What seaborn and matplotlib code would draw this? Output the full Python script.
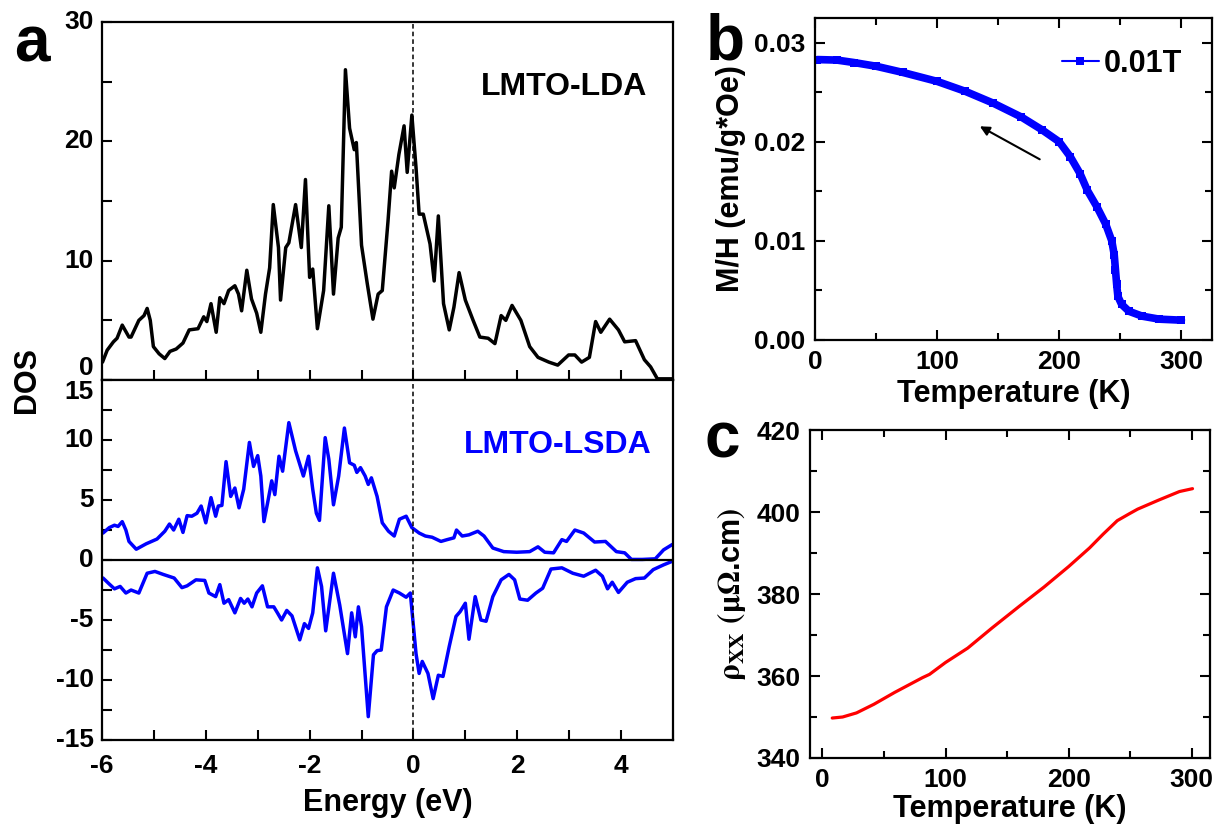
import numpy as np
import pandas as pd
import matplotlib
matplotlib.use("Agg")
import matplotlib.pyplot as plt
import seaborn as sns
from matplotlib.ticker import MultipleLocator, FormatStrFormatter

# ---- panel a: LMTO-LDA total DOS ----
lda_e = [-5.99, -5.9, -5.78, -5.71, -5.61, -5.48, -5.44, -5.29, -5.19, -5.13, -5.07, -5.01, -4.9, -4.79,
         -4.69, -4.57, -4.44, -4.32, -4.15, -4.04, -3.98, -3.9, -3.8, -3.73, -3.65, -3.56, -3.44, -3.37,
         -3.31, -3.21, -3.12, -3.02, -2.94, -2.85, -2.77, -2.70, -2.60, -2.56, -2.46, -2.40, -2.27, -2.16,
         -2.08, -2.0, -1.94, -1.85, -1.73, -1.63, -1.54, -1.45, -1.39, -1.31, -1.23, -1.14, -1.10, -1.0,
         -0.89, -0.78, -0.68, -0.60, -0.49, -0.42, -0.37, -0.28, -0.18, -0.12, -0.03, 0.05, 0.11, 0.19,
         0.32, 0.40, 0.48, 0.58, 0.69, 0.78, 0.88, 1.0, 1.15, 1.28, 1.44, 1.57, 1.69, 1.78, 1.90, 2.07,
         2.24, 2.40, 2.61, 2.78, 2.99, 3.11, 3.24, 3.39, 3.51, 3.61, 3.78, 3.95, 4.07, 4.28, 4.45, 4.57,
         4.70, 4.99]
lda_dos = [1.5, 2.5, 3.2, 3.5, 4.6, 3.6, 3.6, 5.0, 5.4, 6.0, 5.0, 2.8, 2.2, 1.8,
           2.4, 2.6, 3.1, 4.2, 4.3, 5.3, 4.9, 6.4, 4.0, 6.9, 6.4, 7.5, 7.9, 7.2,
           5.8, 9.2, 6.8, 5.6, 4.0, 7.2, 9.4, 14.7, 11.1, 6.7, 11.1, 11.5, 14.7, 11.1,
           16.8, 8.6, 9.3, 4.3, 7.5, 14.6, 7.2, 11.9, 12.8, 26.0, 21.1, 19.3, 19.9, 11.3,
           8.1, 5.1, 7.2, 7.5, 13.3, 17.5, 16.1, 18.9, 21.3, 17.4, 22.2, 17.8, 13.9, 13.9,
           11.4, 8.3, 13.75, 6.4, 4.2, 6.1, 9.0, 6.7, 5.0, 3.6, 3.5, 3.05, 5.4, 5.0, 6.25, 5.0,
           2.8, 1.9, 1.5, 1.25, 2.1, 2.1, 1.5, 1.9, 4.9, 4.0, 5.1, 4.2, 3.2, 3.3, 1.7, 1.1,
           0.1, 0.1]

# ---- panel a: LMTO-LSDA spin up / spin down ----
up_e = [-5.98, -5.86, -5.76, -5.69, -5.61, -5.54, -5.48, -5.34, -5.15, -4.94, -4.79, -4.7, -4.62, -4.52,
        -4.44, -4.36, -4.27, -4.17, -4.09, -4.0, -3.9, -3.81, -3.76, -3.69, -3.61, -3.52, -3.44, -3.36,
        -3.27, -3.16, -3.08, -3.0, -2.94, -2.88, -2.81, -2.73, -2.67, -2.59, -2.52, -2.40, -2.27, -2.12,
        -2.02, -1.94, -1.87, -1.81, -1.70, -1.63, -1.54, -1.44, -1.33, -1.23, -1.14, -1.09, -1.02, -0.93,
        -0.87, -0.81, -0.70, -0.60, -0.48, -0.37, -0.27, -0.14, -0.03, 0.11, 0.23, 0.36, 0.53, 0.65, 0.78,
        0.83, 0.94, 1.07, 1.24, 1.36, 1.53, 1.74, 1.99, 2.24, 2.40, 2.53, 2.70, 2.86, 2.95, 3.11, 3.28,
        3.49, 3.70, 3.91, 4.07, 4.2, 4.41, 4.66, 4.82, 4.99]
up_dos = [2.25, 2.7, 2.9, 2.8, 3.2, 2.5, 1.55, 0.9, 1.35, 1.75, 2.4, 3.0, 2.5, 3.4,
          2.3, 3.7, 3.65, 3.9, 4.5, 3.1, 5.2, 3.65, 4.5, 4.55, 8.2, 5.3, 6.0, 4.35,
          5.9, 9.8, 7.8, 8.7, 7.0, 3.2, 4.75, 6.6, 5.45, 8.65, 7.4, 11.45, 9.1, 7.0,
          8.65, 5.9, 3.9, 3.3, 10.2, 8.4, 4.6, 7.0, 11.0, 8.1, 7.9, 7.3, 7.7, 7.0,
          6.3, 6.85, 5.3, 3.1, 2.4, 2.0, 3.4, 3.65, 2.7, 2.25, 2.0, 1.9, 1.55, 1.7, 1.85,
          2.5, 2.0, 2.1, 2.4, 2.0, 1.0, 0.7, 0.65, 0.7, 1.1, 0.65, 0.6, 1.7, 1.55, 2.5, 2.25,
          1.5, 1.55, 0.7, 0.6, 0.05, 0.05, 0.1, 0.85, 1.3]

dn_e = [-5.98, -5.86, -5.76, -5.65, -5.54, -5.44, -5.29, -5.13, -4.98, -4.82, -4.61, -4.46, -4.36, -4.19,
        -4.02, -3.94, -3.81, -3.73, -3.65, -3.56, -3.44, -3.33, -3.26, -3.19, -3.11, -3.02, -2.91, -2.81,
        -2.69, -2.62, -2.54, -2.44, -2.34, -2.19, -2.10, -2.02, -1.94, -1.85, -1.77, -1.69, -1.54, -1.42,
        -1.27, -1.19, -1.12, -1.06, -1.0, -0.87, -0.77, -0.70, -0.62, -0.52, -0.39, -0.27, -0.14, -0.06,
        0.05, 0.11, 0.17, 0.28, 0.38, 0.48, 0.57, 0.69, 0.82, 0.90, 1.0, 1.07, 1.19, 1.30, 1.40, 1.53,
        1.69, 1.84, 1.95, 2.05, 2.20, 2.36, 2.49, 2.65, 2.86, 3.07, 3.28, 3.51, 3.64, 3.74, 3.83, 3.95,
        4.12, 4.28, 4.45, 4.62, 4.82, 4.99]
dn_dos = [-1.5, -2.0, -2.4, -2.2, -2.75, -2.5, -2.75, -1.1, -0.95, -1.2, -1.5, -2.3, -2.15, -1.65,
          -1.7, -2.75, -3.05, -2.05, -3.6, -3.3, -4.4, -3.2, -3.6, -3.25, -3.9, -2.75, -2.15, -3.9,
          -3.9, -4.4, -5.0, -4.2, -4.65, -6.65, -5.3, -5.7, -4.4, -0.65, -2.2, -5.9, -1.1, -3.75,
          -7.8, -4.4, -6.4, -3.9, -5.55, -13.05, -7.9, -7.55, -7.5, -3.9, -2.5, -2.75, -3.1, -2.75,
          -7.8, -9.45, -8.45, -9.45, -11.55, -9.6, -9.7, -7.2, -4.7, -4.3, -3.6, -6.6, -3.05, -5.0, -5.1, -3.05,
          -1.65, -1.2, -1.65, -3.25, -3.35, -2.75, -2.35, -0.75, -0.65, -1.1, -1.35, -0.85, -1.35, -2.4, -1.85, -2.7,
          -1.85, -1.55, -1.5, -0.8, -0.4, -0.1]

# ---- panel b: M/H vs T (0.01 T) ----
mh_t = [2, 18, 32, 50, 72, 100, 123, 146, 169, 186, 200, 209, 217, 223, 231, 238, 243, 245, 246, 247,
        248, 251, 257, 268, 282, 300]
mh_val = [0.0283, 0.02825, 0.0280, 0.02763, 0.0270, 0.0261, 0.0251, 0.0239, 0.0225, 0.0212, 0.0200,
          0.0185, 0.0168, 0.0151, 0.0134, 0.0117, 0.0100, 0.0086, 0.0071, 0.0056, 0.0044, 0.0036,
          0.0029, 0.0024, 0.0021, 0.0020]

# ---- panel c: rho_xx vs T ----
rho_t = [8, 16.4, 27.7, 41.8, 58.7, 81.3, 87, 100, 118, 137.7, 160.3, 180, 200, 217, 228, 239.5, 249.4,
         256, 273, 290, 300.6]
rho_val = [349.75, 350, 351, 353.1, 356.0, 359.6, 360.4, 363.3, 366.8, 371.7, 377.1, 381.7, 386.7,
           391.25, 394.6, 397.9, 399.6, 400.7, 402.9, 405.0, 405.7]

sns.set_theme(style="ticks")
plt.rcParams['font.family'] = ['Liberation Sans', 'DejaVu Sans']
plt.rcParams['font.weight'] = 'bold'
plt.rcParams['axes.labelweight'] = 'bold'
plt.rcParams['mathtext.fontset'] = 'stix'
plt.rcParams['axes.unicode_minus'] = False
for k in ['text.color', 'axes.labelcolor', 'xtick.color', 'ytick.color', 'axes.edgecolor']:
    plt.rcParams[k] = 'black'
plt.rcParams['axes.linewidth'] = 1.6
plt.rcParams['xtick.direction'] = 'in'
plt.rcParams['ytick.direction'] = 'in'
for k in ['xtick.major.width', 'ytick.major.width', 'xtick.minor.width', 'ytick.minor.width']:
    plt.rcParams[k] = 1.5
plt.rcParams['lines.solid_joinstyle'] = 'round'

TICK = 19
LAB = 22

fig = plt.figure(figsize=(12.2, 8.24), dpi=100)
ax1 = fig.add_axes([0.0836, 0.5388, 0.468, 0.4345])
ax2 = fig.add_axes([0.0836, 0.1019, 0.468, 0.4369])
axb = fig.add_axes([0.668, 0.5874, 0.3254, 0.3908])
axc = fig.add_axes([0.664, 0.0801, 0.328, 0.398])

lda = pd.DataFrame({'E': lda_e, 'DOS': lda_dos})
up = pd.DataFrame({'E': up_e, 'DOS': up_dos})
dn = pd.DataFrame({'E': dn_e, 'DOS': dn_dos})

sns.lineplot(data=lda, x='E', y='DOS', ax=ax1, color='black', lw=2.5, estimator=None)
sns.lineplot(data=up, x='E', y='DOS', ax=ax2, color='#0000ff', lw=2.5, estimator=None)
sns.lineplot(data=dn, x='E', y='DOS', ax=ax2, color='#0000ff', lw=2.5, estimator=None)

for ax in (ax1, ax2):
    ax.axvline(0, color='black', lw=1.1, ls=(0, (3, 2)))
    ax.set_xlim(-6, 5)
    ax.set_xlabel('')
    ax.set_ylabel('')
    ax.tick_params(labelsize=TICK, length=7, which='major', pad=6)
    ax.tick_params(length=7, which='minor')
    ax.tick_params(top=False, right=False)
ax2.axhline(0, color='black', lw=1.6)

ax1.set_ylim(0, 30)
ax1.yaxis.set_major_locator(MultipleLocator(10))
ax1.yaxis.set_minor_locator(MultipleLocator(5))
ax1.xaxis.set_major_locator(MultipleLocator(1))
ax1.tick_params(axis='x', labelbottom=False)
ax1.text(2.9, 24.55, 'LMTO-LDA', fontsize=23, fontweight='bold', ha='center', va='center')

ax2.set_ylim(-15, 15)
ax2.yaxis.set_major_locator(MultipleLocator(5))
ax2.yaxis.set_minor_locator(MultipleLocator(2.5))
ax2.xaxis.set_major_locator(MultipleLocator(2))
ax2.xaxis.set_minor_locator(MultipleLocator(1))
ax2.tick_params(axis='x', pad=10)
ax2.set_xlabel('Energy (eV)', fontsize=LAB, fontweight='bold', labelpad=7)
ax2.text(2.79, 9.55, 'LMTO-LSDA', fontsize=23, fontweight='bold', ha='center', va='center',
         color='#0000ff')
fig.text(0.022, 1 - 380 / 824, 'DOS', rotation=90, fontsize=LAB, fontweight='bold',
         ha='center', va='center')

# panel b
mh = pd.DataFrame({'T': mh_t, 'MH': mh_val})
sns.lineplot(data=mh, x='T', y='MH', ax=axb, color='#0000ff', lw=5.5, marker='s', markersize=6,
             markeredgewidth=0, estimator=None, label='0.01T')
axb.set_xlim(0, 325)
axb.set_ylim(0, 0.0325)
axb.xaxis.set_major_locator(MultipleLocator(100))
axb.xaxis.set_minor_locator(MultipleLocator(50))
axb.yaxis.set_major_locator(MultipleLocator(0.01))
axb.yaxis.set_minor_locator(MultipleLocator(0.005))
axb.yaxis.set_major_formatter(FormatStrFormatter('%.2f'))
axb.set_xlabel('Temperature (K)', fontsize=LAB, fontweight='bold', labelpad=4)
axb.set_ylabel('M/H (emu/g*Oe)', fontsize=LAB, fontweight='bold', labelpad=6)
axb.annotate('', xy=(133, 0.0217), xytext=(186, 0.0181),
             arrowprops=dict(arrowstyle='-|>', color='black', lw=1.5, mutation_scale=14))
leg = axb.legend(loc='upper right', bbox_to_anchor=(0.97, 0.96), frameon=False, fontsize=22,
                 handlelength=1.2, handletextpad=0.15, borderaxespad=0.2)
for h in leg.get_lines():
    h.set_linewidth(1.5)
    h.set_markersize(6)

# panel c
rho = pd.DataFrame({'T': rho_t, 'rho': rho_val})
sns.lineplot(data=rho, x='T', y='rho', ax=axc, color='#ff0000', lw=2.3, estimator=None)
axc.set_xlim(-10, 315)
axc.set_ylim(340, 420)
axc.xaxis.set_major_locator(MultipleLocator(100))
axc.xaxis.set_minor_locator(MultipleLocator(50))
axc.yaxis.set_major_locator(MultipleLocator(20))
axc.yaxis.set_minor_locator(MultipleLocator(10))
axc.set_xlabel('Temperature (K)', fontsize=LAB, fontweight='bold', labelpad=2)
axc.set_ylabel(r'$\mathrm{ρ}_{\mathbf{XX}}$ $(\mathrm{μΩ}$.cm$)$', fontsize=LAB, labelpad=6)

for ax in (axb, axc):
    ax.tick_params(labelsize=TICK, length=7, which='major', top=True, right=True, pad=7)
    ax.tick_params(length=5, which='minor', top=True, right=True)

for ax in (ax1, ax2, axb, axc):
    for lab in ax.get_xticklabels() + ax.get_yticklabels():
        lab.set_fontweight('bold')

# keep the "0" of the upper panel and the "15" of the lower panel apart
ax1.yaxis.set_major_formatter(FormatStrFormatter('%d'))
ax2.yaxis.set_major_formatter(FormatStrFormatter('%d'))
fig.canvas.draw()
for lab in ax1.get_yticklabels():
    lab.set_verticalalignment('center' if lab.get_text() != '0' else 'bottom')
for lab in ax2.get_yticklabels():
    lab.set_verticalalignment('center' if lab.get_text() != '15' else 'top')

fig.text(32 / 1220, 1 - 45 / 824, 'a', fontsize=46, fontweight='bold', ha='center', va='center')
fig.text(725 / 1220, 1 - 42 / 824, 'b', fontsize=46, fontweight='bold', ha='center', va='center')
fig.text(722 / 1220, 1 - 440 / 824, 'c', fontsize=46, fontweight='bold', ha='center', va='center')

fig.savefig('out.png', dpi=100)
